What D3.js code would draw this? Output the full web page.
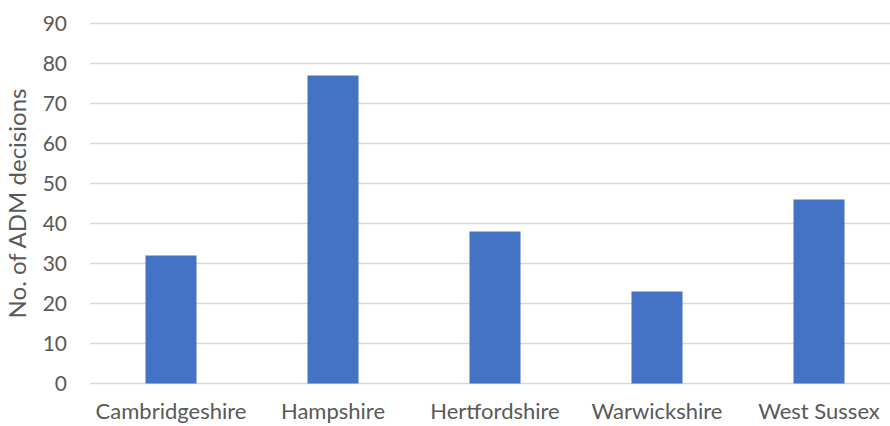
<!DOCTYPE html>
<html><head><meta charset="utf-8">
<script src="https://cdn.jsdelivr.net/npm/d3@7"></script>
<style>body{margin:0;background:#fff}svg{display:block}</style>
</head><body>
<svg id="c" width="890" height="426"></svg>
<script>
const categories = ["Cambridgeshire","Hampshire","Hertfordshire","Warwickshire","West Sussex"];
const values = [32,77,38,23,46];
const yTicks = [0,10,20,30,40,50,60,70,80,90];
const yTitle = "No. of ADM decisions";

(function () {
const svg = d3.select("#c");
const font = "Lato, 'Open Sans', sans-serif";
const pLeft = 90, pRight = 900, pTop = 23.5, pBottom = 383.5;
const x = d3.scaleBand().domain(categories).range([pLeft, pRight]).paddingInner(0.685).paddingOuter(0.3425).align(0.5);
const y = d3.scaleLinear().domain([0, 90]).range([pBottom, pTop]);

svg.append("g").selectAll("line").data(yTicks).join("line")
  .attr("x1", pLeft).attr("x2", 890)
  .attr("y1", d => y(d)).attr("y2", d => y(d))
  .attr("stroke", "#d9d9d9").attr("stroke-width", 1.3);

svg.append("g").selectAll("rect").data(values).join("rect")
  .attr("x", (d, i) => x(categories[i]))
  .attr("width", x.bandwidth())
  .attr("y", d => y(d))
  .attr("height", d => y(0) - y(d))
  .attr("fill", "#4472C4");

svg.append("g").selectAll("text").data(yTicks).join("text")
  .attr("x", 67).attr("y", d => y(d)).attr("dy", "0.35em")
  .attr("text-anchor", "end").attr("font-family", font).attr("font-size", 21)
  .attr("fill", "#595959").text(d => d);

svg.append("g").selectAll("text").data(categories).join("text")
  .attr("x", d => x(d) + x.bandwidth() / 2).attr("y", 419)
  .attr("text-anchor", "middle").attr("font-family", font).attr("font-size", 22)
  .attr("fill", "#595959").text(d => d);

svg.append("text")
  .attr("transform", `translate(26,${(pTop + pBottom) / 2}) rotate(-90)`)
  .attr("text-anchor", "middle").attr("font-family", font).attr("font-size", 24)
  .attr("fill", "#595959").text(yTitle);
})();
</script>
</body></html>
